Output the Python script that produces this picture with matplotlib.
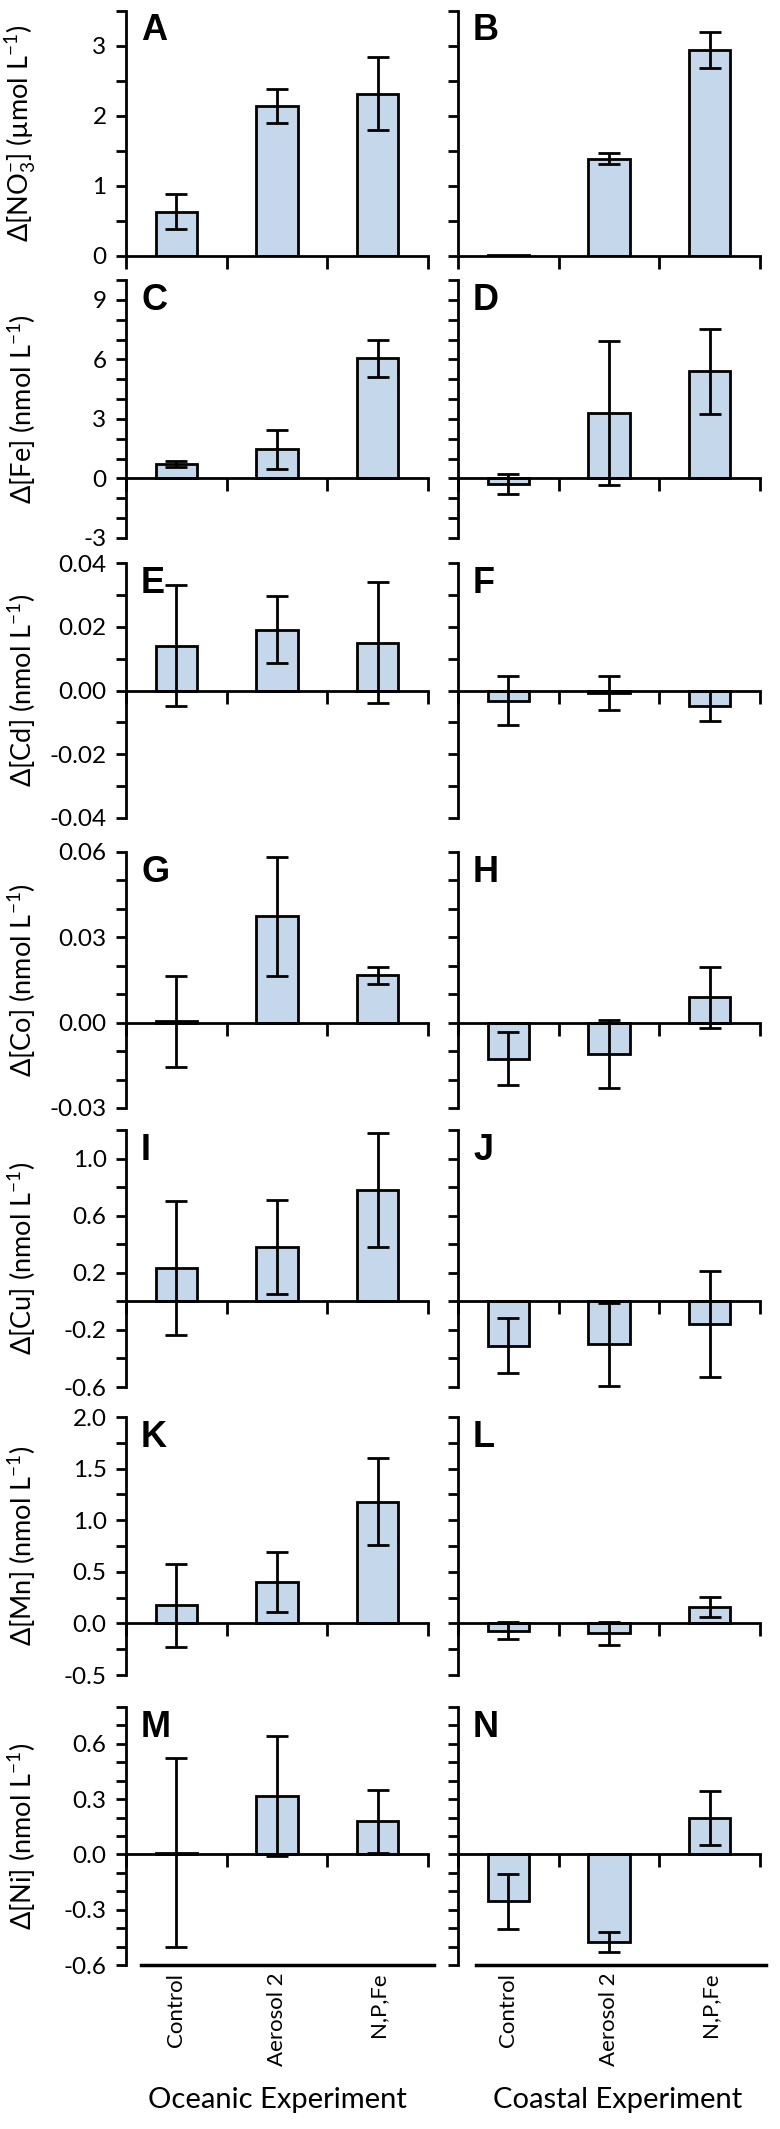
import numpy as np
import matplotlib.pyplot as plt
import matplotlib.transforms as mtransforms
from matplotlib.ticker import MultipleLocator, FixedLocator, FormatStrFormatter

plt.rcParams['font.family'] = ['Lato', 'DejaVu Sans']
plt.rcParams['mathtext.fontset'] = 'custom'
plt.rcParams['mathtext.rm'] = 'Lato'
plt.rcParams['mathtext.it'] = 'Lato:italic'
plt.rcParams['mathtext.fallback'] = 'stixsans'

treatments = ['Control', 'Aerosol 2', 'N,P,Fe']
experiments = ['Oceanic Experiment', 'Coastal Experiment']

# mean change and error, oceanic (left) / coastal (right)
no3_oce = [0.63, 2.14, 2.32]
no3_oce_err = [0.25, 0.24, 0.52]
no3_coa = [0.01, 1.39, 2.94]
no3_coa_err = [0.0, 0.08, 0.26]

fe_oce = [0.75, 1.46, 6.05]
fe_oce_err = [0.15, 0.96, 0.95]
fe_coa = [-0.3, 3.3, 5.4]
fe_coa_err = [0.5, 3.65, 2.15]

cd_oce = [0.0141, 0.019, 0.015]
cd_oce_err = [0.019, 0.0105, 0.019]
cd_coa = [-0.0032, -0.0008, -0.0048]
cd_coa_err = [0.0077, 0.0052, 0.0047]

co_oce = [0.0005, 0.0374, 0.0166]
co_oce_err = [0.016, 0.021, 0.003]
co_coa = [-0.0127, -0.0109, 0.0089]
co_coa_err = [0.0093, 0.012, 0.0108]

cu_oce = [0.233, 0.38, 0.78]
cu_oce_err = [0.47, 0.33, 0.40]
cu_coa = [-0.31, -0.30, -0.16]
cu_coa_err = [0.19, 0.29, 0.37]

mn_oce = [0.175, 0.40, 1.18]
mn_oce_err = [0.40, 0.29, 0.42]
mn_coa = [-0.07, -0.097, 0.16]
mn_coa_err = [0.08, 0.115, 0.10]

ni_oce = [0.01, 0.319, 0.18]
ni_oce_err = [0.515, 0.325, 0.17]
ni_coa = [-0.255, -0.474, 0.197]
ni_coa_err = [0.15, 0.054, 0.145]

rows = [
    (r'$\Delta$[NO$_3^{-}$] (µmol L$^{-1}$)', no3_oce, no3_oce_err, no3_coa, no3_coa_err,
     (0, 3.5), [0, 1, 2, 3], 0.5, '%d', 'AB', (11, 256)),
    (r'$\Delta$[Fe] (nmol L$^{-1}$)', fe_oce, fe_oce_err, fe_coa, fe_coa_err,
     (-3, 10), [-3, 0, 3, 6, 9], 1, '%d', 'CD', (280, 538)),
    (r'$\Delta$[Cd] (nmol L$^{-1}$)', cd_oce, cd_oce_err, cd_coa, cd_coa_err,
     (-0.04, 0.04), [-0.04, -0.02, 0, 0.02, 0.04], 0.01, '%.2f', 'EF', (563, 818)),
    (r'$\Delta$[Co] (nmol L$^{-1}$)', co_oce, co_oce_err, co_coa, co_coa_err,
     (-0.03, 0.06), [-0.03, 0, 0.03, 0.06], 0.01, '%.2f', 'GH', (852, 1108)),
    (r'$\Delta$[Cu] (nmol L$^{-1}$)', cu_oce, cu_oce_err, cu_coa, cu_coa_err,
     (-0.6, 1.2), [-0.6, -0.2, 0.2, 0.6, 1.0], 0.2, '%.1f', 'IJ', (1130, 1387)),
    (r'$\Delta$[Mn] (nmol L$^{-1}$)', mn_oce, mn_oce_err, mn_coa, mn_coa_err,
     (-0.5, 2.0), [-0.5, 0, 0.5, 1.0, 1.5, 2.0], 0.25, '%.1f', 'KL', (1417, 1675)),
    (r'$\Delta$[Ni] (nmol L$^{-1}$)', ni_oce, ni_oce_err, ni_coa, ni_coa_err,
     (-0.6, 0.8), [-0.6, -0.3, 0, 0.3, 0.6], 0.1, '%.1f', 'MN', (1707, 1965)),
]

W, H = 780, 2129
fig = plt.figure(figsize=(W / 100, H / 100), dpi=100)
bar_color = '#c5d7ea'
x = np.arange(len(treatments)) + 0.5

col_left = [126, 458]
col_w = 302

for r, (ylab, v1, e1, v2, e2, ylim, major, minor, fmt, letters, (top, bot)) in enumerate(rows):
    for c, (vals, errs) in enumerate([(v1, e1), (v2, e2)]):
        ax = fig.add_axes([col_left[c] / W, 1 - bot / H, col_w / W, (bot - top) / H])
        vals = np.array(vals)
        errs = np.array(errs)
        ax.bar(x, vals, width=0.41, color=bar_color, edgecolor='black', linewidth=2, zorder=2)
        m = errs > 0
        ax.errorbar(x[m], vals[m], yerr=errs[m], fmt='none', ecolor='black',
                    elinewidth=2, capsize=8, capthick=2, zorder=3)
        ax.set_xlim(0, 3)
        ax.set_ylim(*ylim)
        for s in ['top', 'right']:
            ax.spines[s].set_visible(False)
        ax.spines['bottom'].set_position(('data', 0))
        ax.spines['bottom'].set_linewidth(2)
        ax.spines['left'].set_linewidth(2)
        ax.spines['bottom'].set_zorder(4)
        ax.set_xticks([0, 1, 2, 3])
        ax.set_xticklabels([])
        ax.tick_params(axis='x', direction='out', length=9, width=2)
        ax.yaxis.set_major_locator(FixedLocator(major))
        ax.yaxis.set_minor_locator(MultipleLocator(minor))
        ax.yaxis.set_major_formatter(FormatStrFormatter(fmt))
        ax.tick_params(axis='y', which='both', direction='out', length=7, width=2,
                       labelsize=17.5, pad=7)
        if c == 1:
            ax.set_yticklabels([])
        else:
            ax.set_ylabel(ylab, fontsize=19.5)
            ax.yaxis.set_label_coords(-0.29, 0.5)
        ax.text(0.05, 0.99, letters[c], transform=ax.transAxes, fontsize=26,
                fontweight='bold', family='Liberation Sans', va='top', ha='left')
        if r == len(rows) - 1:
            # category axis line along the bottom of the last row
            ax.axhline(ylim[0], xmin=0.05 + 0.01 * c, xmax=1.02, color='black',
                       linewidth=2.5, clip_on=False)
            trans = mtransforms.blended_transform_factory(ax.transData, ax.transAxes)
            for xi, name in zip(x, treatments):
                ax.text(xi, -0.03, name, transform=trans, rotation=90,
                        ha='center', va='top', fontsize=16)
            ax.text(0.5 + 0.03 * c, -0.525, experiments[c], transform=ax.transAxes,
                    ha='center', va='center', fontsize=21)

fig.savefig('out.png', dpi=100)
